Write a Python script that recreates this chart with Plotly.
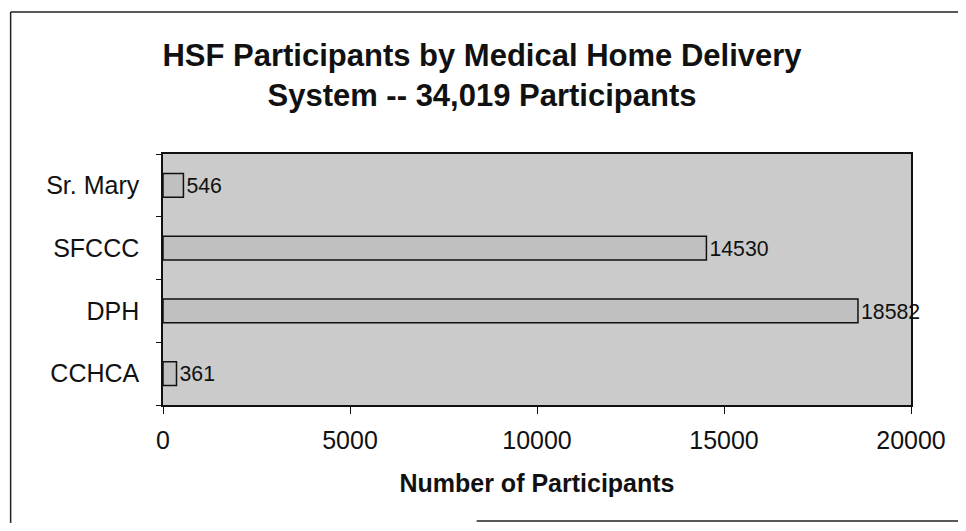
import plotly.graph_objects as go

categories = ["CCHCA", "DPH", "SFCCC", "Sr. Mary"]
participants = [361, 18582, 14530, 546]
x_ticks = [0, 5000, 10000, 15000, 20000]

title_text = "HSF Participants by Medical Home Delivery<br>System -- 34,019 Participants"
x_title = "Number of Participants"

FONT = "Liberation Sans, Arial, sans-serif"
INK = "#111111"

# figure fits inside the page's 8px body margin
W, H = 950, 515
L, R, T, B = 155, 39, 146, 118
PW, PH = W - L - R, H - T - B

fig = go.Figure(
    go.Bar(
        y=categories,
        x=participants,
        orientation="h",
        marker=dict(color="#c0c0c0", line=dict(color=INK, width=1.5)),
        text=[str(v) for v in participants],
        textposition="outside",
        textfont=dict(family=FONT, size=25, color=INK),
        cliponaxis=False,
        width=0.38,
    )
)

fig.update_layout(
    width=W,
    height=H,
    margin=dict(l=L, r=R, t=T, b=B),
    paper_bgcolor="white",
    plot_bgcolor="#cbcbcb",
    showlegend=False,
    title=dict(
        text=title_text,
        x=474 / W,
        xanchor="center",
        y=1 - 58 / H,
        yanchor="middle",
        font=dict(family=FONT, size=31, color=INK, weight="bold"),
    ),
    font=dict(family=FONT, size=25, color=INK),
)

fig.update_xaxes(
    range=[0, 20000],
    tickvals=x_ticks,
    ticktext=[str(v) for v in x_ticks],
    showgrid=False,
    zeroline=False,
    showline=True,
    linecolor=INK,
    linewidth=1.5,
    mirror=True,
    ticks="outside",
    ticklen=7,
    tickcolor=INK,
    ticklabelstandoff=5,
    tickfont=dict(family=FONT, size=25, color=INK),
    title=dict(text=x_title, font=dict(family=FONT, size=25, color=INK, weight="bold"), standoff=22),
)

fig.update_yaxes(
    showgrid=False,
    showline=True,
    linecolor=INK,
    linewidth=1.5,
    mirror=True,
    ticks="outside",
    tickson="boundaries",
    ticklen=5,
    tickcolor=INK,
    ticklabelstandoff=17,
    tickfont=dict(family=FONT, size=25, color=INK),
)

# outer chart frame: left and top edges, bottom edge visible only on the right half
fx0, fx1 = (1 - L) / PW, (W + 20 - L) / PW
fx_mid = (472 - L) / PW
fy_top, fy_bot = 1 + (T - 4) / PH, -(H - 2 - (T + PH)) / PH
frame = dict(color="#222222", width=1.5)
for x0, y0, x1, y1 in [
    (fx0, fy_bot - 0.2, fx0, fy_top),
    (fx0, fy_top, fx1, fy_top),
    (fx_mid, fy_bot, fx1, fy_bot),
]:
    fig.add_shape(type="line", xref="paper", yref="paper",
                  x0=x0, y0=y0, x1=x1, y1=y1, line=frame, layer="below")

fig.write_html("out.html")
